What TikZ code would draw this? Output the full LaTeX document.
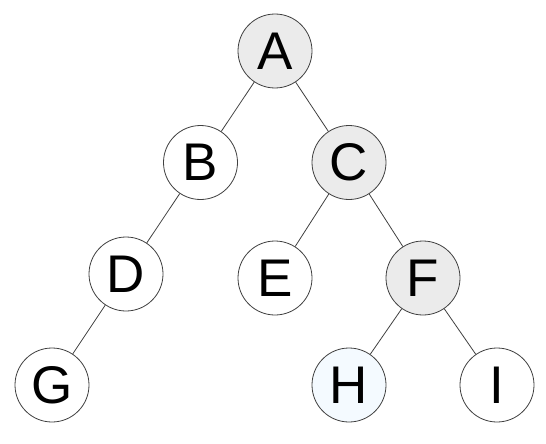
\documentclass[tikz,border=0pt]{standalone}
\usepackage{fontspec}
\setmainfont{Liberation Sans}
\definecolor{visited}{HTML}{EBEBEB}
\definecolor{current}{HTML}{F4FAFF}
\definecolor{rim}{HTML}{404040}

\begin{document}
\begin{tikzpicture}[x=1pt,y=-1pt,
  vertex/.style={circle,draw=rim,line width=0.8pt,fill=white,minimum size=74pt,
    inner sep=0pt,font=\fontsize{53}{60}\selectfont},
  edge/.style={draw=rim,line width=0.8pt}]
\useasboundingbox (0,0) rectangle (546,444);

% nodes of the tree
\node[vertex,fill=visited] (A) at (275,51) {A};
\node[vertex] (B) at (200.5,162.5) {B};
\node[vertex,fill=visited] (C) at (349,162.5) {C};
\node[vertex] (D) at (126,274) {D};
\node[vertex] (E) at (275,278) {E};
\node[vertex,fill=visited] (F) at (423,278) {F};
\node[vertex] (G) at (52,385) {G};
\node[vertex,fill=current] (H) at (349,385) {H};
\node[vertex] (I) at (497,385) {I};

% edges
\begin{scope}[edge]
\draw (A) -- (B);
\draw (A) -- (C);
\draw (B) -- (D);
\draw (D) -- (G);
\draw (C) -- (E);
\draw (C) -- (F);
\draw (F) -- (H);
\draw (F) -- (I);
\end{scope}
\end{tikzpicture}
\end{document}
